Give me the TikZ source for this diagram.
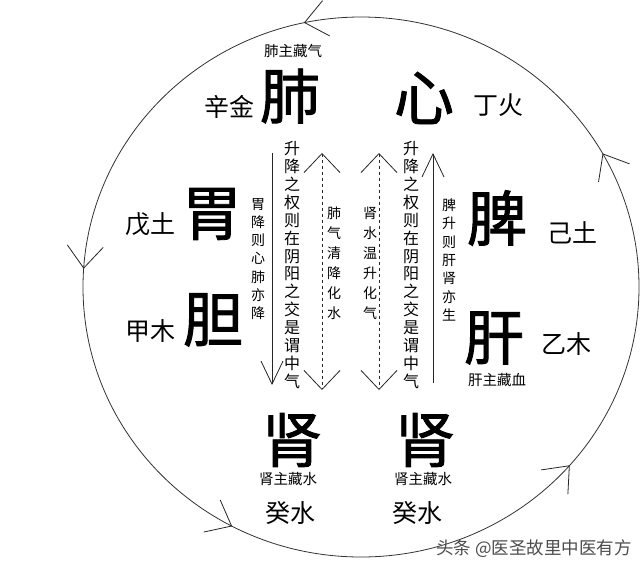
\documentclass[tikz,border=0pt]{standalone}
\usepackage{fontspec}
\setmainfont{Noto Sans CJK SC}
\newfontfamily\bigfont{Noto Sans CJK SC}[FakeBold=1.5]
\usetikzlibrary{decorations.markings,arrows.meta}
\begin{document}
\begin{tikzpicture}[x=1pt,y=-1pt,
  big/.style={font=\bigfont\fontsize{60}{60}\selectfont, inner sep=0pt},
  mid/.style={font=\fontsize{25}{25}\selectfont, inner sep=0pt},
  small/.style={font=\fontsize{14.5}{14.5}\selectfont, inner sep=0pt},
  colmain/.style={font=\fontsize{16}{17.9}\selectfont, align=center, inner sep=0pt},
  colside/.style={font=\fontsize{14}{18.3}\selectfont, align=center, inner sep=0pt},
  colmid/.style={font=\fontsize{14}{20}\selectfont, align=center, inner sep=0pt},
  wing/.style={line width=0.8pt, draw=black!85},
  solidarrow/.style={line width=0.8pt, draw=black!85, -{Straight Barb[length=23pt,width=22pt]}},
  dasharrow/.style={line width=0.8pt, draw=black!85, dashed, {Straight Barb[length=19pt,width=36pt]}-{Straight Barb[length=19pt,width=36pt]}},
  ring/.style={line width=0.8pt, draw=black!80, postaction={decorate},
    decoration={markings,
      mark=at position 0.114 with {\draw[wing] (22,-18) -- (0,0) -- (22,18);},
      mark=at position 0.328 with {\draw[wing] (22,-18) -- (0,0) -- (22,18);},
      mark=at position 0.511 with {\draw[wing] (22,-18) -- (0,0) -- (22,18);},
      mark=at position 0.717 with {\draw[wing] (22,-18) -- (0,0) -- (22,18);},
      mark=at position 0.919 with {\draw[wing] (22,-18) -- (0,0) -- (22,18);}}}
]
\useasboundingbox[fill=white] (0,0) rectangle (640,571);

% outer cycle
\draw[ring] (361,287) ellipse [x radius=278, y radius=270];

% big organs
\node[big] (fei) at (290,96) {肺};
\node[big] (xin) at (424,98) {心};
\node[big] (wei) at (212,214) {胃};
\node[big] (dan) at (213,320) {胆};
\node[big] (pi) at (497,218) {脾};
\node[big] (gan) at (494,338) {肝};
\node[big] (shenL) at (292,440) {肾};
\node[big] (shenR) at (425,440) {肾};

% stems
\node[mid] (xinjin) at (229,107) {辛金};
\node[mid] (dinghuo) at (498,105) {丁火};
\node[mid] (wutu) at (150,224) {戊土};
\node[mid] (jiamu) at (150,331) {甲木};
\node[mid] (jitu) at (572,233) {己土};
\node[mid] (yimu) at (566,344) {乙木};
\node[mid] (guiL) at (290,513) {癸水};
\node[mid] (guiR) at (417,513) {癸水};

% small labels
\node[small] (feizhu) at (293,51) {肺主藏气};
\node[small] (ganzhu) at (497,380) {肝主藏血};
\node[small] (shenzhuL) at (288,479) {肾主藏水};
\node[small] (shenzhuR) at (423,479) {肾主藏水};

% vertical texts
\node[colmain] (colL) at (292,265) {升\\降\\之\\权\\则\\在\\阴\\阳\\之\\交\\是\\谓\\中\\气};
\node[colmain] (colR) at (411,265) {升\\降\\之\\权\\则\\在\\阴\\阳\\之\\交\\是\\谓\\中\\气};
\node[colside] (weitxt) at (258,259) {胃\\降\\则\\心\\肺\\亦\\降};
\node[colside] (pitxt) at (449,260) {脾\\升\\则\\肝\\肾\\亦\\生};
\node[colmid] (feitxt) at (334,263) {肺\\气\\清\\降\\化\\水};
\node[colmid] (shentxt) at (370,263) {肾\\水\\温\\升\\化\\气};

% arrows
\coordinate (aLtop) at (272,153);
\coordinate (aLbot) at (272,385);
\coordinate (aRtop) at (433,153);
\coordinate (aRbot) at (433,383);
\coordinate (dLtop) at (322,153);
\coordinate (dLbot) at (322,390);
\coordinate (dRtop) at (379,153);
\coordinate (dRbot) at (379,390);
\draw[solidarrow] (aLtop) -- (aLbot);
\draw[solidarrow] (aRbot) -- (aRtop);
\draw[dasharrow] (dLtop) -- (dLbot);
\draw[dasharrow] (dRtop) -- (dRbot);

% watermark
\node[font=\fontsize{17.5}{17.5}\selectfont, text=black!70, inner sep=0pt] (wm) at (534,549) {头条 @医圣故里中医有方};
\end{tikzpicture}
\end{document}
